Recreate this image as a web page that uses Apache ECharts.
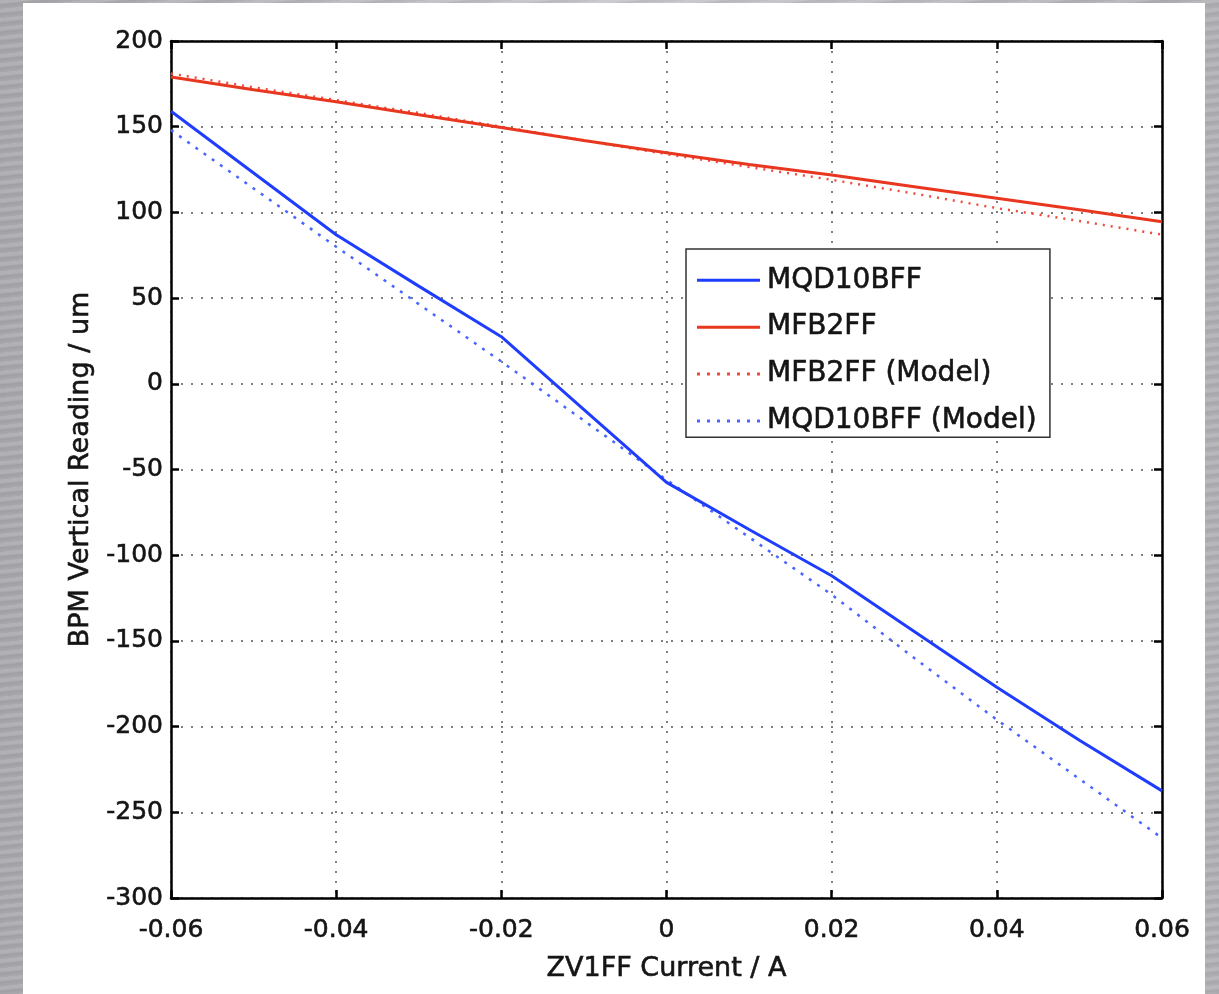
<!DOCTYPE html>
<html>
<head>
<meta charset="utf-8">
<script src="https://cdn.jsdelivr.net/npm/echarts@6/dist/echarts.min.js"></script>
<style>
  html, body { margin: 0; padding: 0; width: 1219px; height: 994px; overflow: hidden; }
  body {
    background:
      repeating-linear-gradient(174deg, rgba(255,255,255,0.10) 0px, rgba(255,255,255,0.10) 3px, rgba(0,0,0,0.05) 5px, rgba(0,0,0,0.0) 9px),
      linear-gradient(90deg, #a8a8ac 0%, #c6c6ca 50%, #b0b0b4 100%);
  }
  #panel { position: absolute; left: 23px; top: 3px; width: 1182px; height: 991px; background: #ffffff; }
  #chart { position: absolute; left: 0; top: 0; width: 1219px; height: 994px; }
</style>
</head>
<body>
<div id="panel"></div>
<div id="chart"></div>
<script>
// ZV1FF current (A)
const currents = [-0.06, -0.05, -0.04, -0.03, -0.02, -0.01, 0, 0.01, 0.02, 0.03, 0.04, 0.05, 0.06];
// BPM vertical readings (um)
const mqd10bff      = [159, 123, 87, 57, 27.5, -15, -57.5, -85, -112, -144.5, -177, -208, -237.5];
const mfb2ff        = [179, 171.5, 164.5, 157, 149.5, 142, 134.8, 128, 121.8, 115, 108.2, 101.5, 94.6];
const mfb2ffModel   = [181, 173, 165.5, 158, 150, 142, 134, 126.5, 119, 111, 102.5, 95, 87];
const mqd10bffModel = [148, 114, 80, 46.5, 13, -21.5, -56, -89.5, -123, -160, -196, -230.5, -265];
const seriesNames = ['MQD10BFF', 'MFB2FF', 'MFB2FF (Model)', 'MQD10BFF (Model)'];

const pairs = ys => currents.map((x, i) => [x, ys[i]]);

const BLUE = '#1f3dff';
const RED = '#e8361f';
const BLUE_M = '#4a66ff';
const RED_M = '#f04a3a';
const FONT = '"DejaVu Sans", Verdana, sans-serif';
const TXT = '#151515';
const heavy = { textBorderColor: TXT, textBorderWidth: 0.6 };

// legend icons: solid bar and row of dots
const solidIcon = 'path://M0,0h63v3h-63z';
let dots = '';
for (let k = 0; k < 7; k++) dots += 'M' + (k * 10) + ',0h3v3h-3z';
const dottedIcon = 'path://' + dots;

const chart = echarts.init(document.getElementById('chart'), null, { renderer: 'canvas' });

const gridLine = { show: true, lineStyle: { color: '#555', width: 1.5, type: [2, 8] } };
const axisLineBlack = { show: true, onZero: false, lineStyle: { color: '#000', width: 2.5 } };
const tickIn = { show: true, inside: true, length: 8, lineStyle: { color: '#000', width: 2.5 } };

chart.setOption({
  backgroundColor: 'transparent',
  animation: false,
  grid: { left: 171, right: 57, top: 41, bottom: 96, containLabel: false },
  legend: {
    orient: 'vertical',
    left: 686, top: 249,
    padding: [17, 13, 2, 11],
    itemGap: 18.3,
    itemWidth: 63, itemHeight: 3,
    backgroundColor: '#fff',
    borderColor: '#333', borderWidth: 1.5,
    textStyle: Object.assign({ fontFamily: FONT, fontSize: 28, color: TXT, padding: [0, 0, 0, 2] }, heavy),
    data: [
      { name: seriesNames[0], icon: solidIcon },
      { name: seriesNames[1], icon: solidIcon },
      { name: seriesNames[2], icon: dottedIcon },
      { name: seriesNames[3], icon: dottedIcon }
    ]
  },
  xAxis: [{
    type: 'value', min: -0.06, max: 0.06, interval: 0.02,
    position: 'bottom',
    name: 'ZV1FF Current / A', nameLocation: 'middle', nameGap: 57,
    nameTextStyle: Object.assign({ fontFamily: FONT, fontSize: 27, color: TXT }, heavy),
    axisLine: axisLineBlack, axisTick: tickIn,
    axisLabel: Object.assign({ fontFamily: FONT, fontSize: 25, color: TXT, margin: 20,
      formatter: v => String(Math.round(v * 100) / 100) }, heavy),
    splitLine: gridLine
  }, {
    type: 'value', min: -0.06, max: 0.06, interval: 0.02,
    position: 'top',
    axisLine: axisLineBlack, axisTick: tickIn,
    axisLabel: { show: false }, splitLine: { show: false }
  }],
  yAxis: [{
    type: 'value', min: -300, max: 200, interval: 50,
    position: 'left',
    name: 'BPM Vertical Reading / um', nameLocation: 'middle', nameGap: 77,
    nameTextStyle: Object.assign({ fontFamily: FONT, fontSize: 27, color: TXT }, heavy),
    axisLine: axisLineBlack, axisTick: tickIn,
    axisLabel: Object.assign({ fontFamily: FONT, fontSize: 25, color: TXT, margin: 8, padding: [4, 0, 0, 0] }, heavy),
    splitLine: gridLine
  }, {
    type: 'value', min: -300, max: 200, interval: 50,
    position: 'right',
    axisLine: axisLineBlack, axisTick: tickIn,
    axisLabel: { show: false }, splitLine: { show: false }
  }],
  series: [
    { name: seriesNames[0], type: 'line', data: pairs(mqd10bff), symbol: 'none',
      lineStyle: { color: BLUE, width: 3 }, itemStyle: { color: BLUE }, z: 5 },
    { name: seriesNames[1], type: 'line', data: pairs(mfb2ff), symbol: 'none',
      lineStyle: { color: RED, width: 3 }, itemStyle: { color: RED }, z: 5 },
    { name: seriesNames[2], type: 'line', data: pairs(mfb2ffModel), symbol: 'none',
      lineStyle: { color: RED_M, width: 2.5, type: [2, 6] }, itemStyle: { color: RED_M }, z: 4 },
    { name: seriesNames[3], type: 'line', data: pairs(mqd10bffModel), symbol: 'none',
      lineStyle: { color: BLUE_M, width: 2.5, type: [3, 7] }, itemStyle: { color: BLUE_M }, z: 4 }
  ]
});
</script>
</body>
</html>
